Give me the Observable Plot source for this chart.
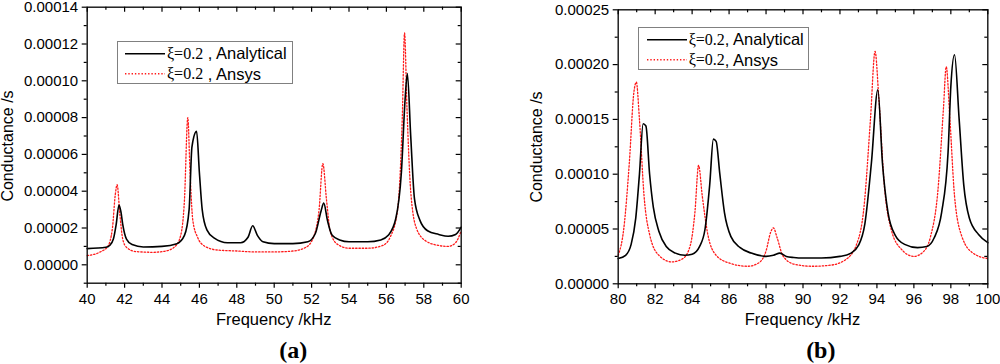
<!DOCTYPE html>
<html>
<head>
<meta charset="utf-8">
<script src="https://cdn.jsdelivr.net/npm/d3@7"></script>
<script src="https://cdn.jsdelivr.net/npm/@observablehq/plot@0.6"></script>
<style>
  html, body { margin: 0; padding: 0; background: #fff; }
  #root { position: relative; width: 1000px; height: 364px; overflow: hidden; background: #fff;
          font-family: "Liberation Sans", Arial, sans-serif; color: #000; }
  .panel { position: absolute; top: 0; }
  .lab { position: absolute; white-space: nowrap; font-size: 16.5px; transform: translate(-50%, -50%); line-height: 1; }
  .ylab { position: absolute; white-space: nowrap; font-size: 16px; transform: translate(-50%, -50%) rotate(-90deg); line-height: 1; }
  .tag { position: absolute; white-space: nowrap; font-family: "Liberation Serif", "Times New Roman", serif; font-weight: bold; font-size: 24px; transform: translate(-50%, -50%); line-height: 1; }
  .legend { position: absolute; border: 1px solid #808080; background: #fff; box-sizing: border-box; }
  .row { position: absolute; display: flex; align-items: center; font-size: 16.5px; white-space: nowrap; transform: translateY(-50%); line-height: 1; }
  .row svg { display: block; margin-right: 2px; }
  .xi { font-family: "Liberation Serif", "Times New Roman", serif; font-size: 16px; }
</style>
</head>
<body>
<div id="root"></div>
<script>
// ---- Data (conductance in units of 1e-5 S) ----
// Panel (a): 40–60 kHz
const aAnalyticalF = [40, 41, 41.2, 41.4, 41.55, 41.7, 41.8, 41.9, 42.1, 42.4, 43, 44, 44.8, 45.2, 45.45, 45.6, 45.85, 46, 46.15, 46.4, 46.8, 47.5, 48.2, 48.6, 48.85, 49.1, 49.4, 50, 51, 51.8, 52.2, 52.5, 52.65, 52.85, 53.1, 53.5, 54, 55, 55.7, 56.1, 56.5, 56.8, 57.0, 57.12, 57.3, 57.5, 57.8, 58.2, 58.8, 59.3, 59.7, 60];
const aAnalyticalG = [0.88, 0.95, 1.05, 1.4, 2.2, 3.25, 2.9, 2.2, 1.4, 1.1, 0.97, 1.0, 1.15, 1.6, 3.0, 6.4, 7.25, 5.0, 3.0, 1.9, 1.45, 1.2, 1.2, 1.5, 2.12, 1.6, 1.25, 1.15, 1.15, 1.25, 1.7, 2.9, 3.35, 2.4, 1.6, 1.35, 1.25, 1.25, 1.35, 1.6, 2.5, 5.0, 9.0, 10.4, 7.0, 3.6, 2.4, 1.85, 1.65, 1.55, 1.65, 2.05];
const aAnsysF = [40, 40.7, 41.1, 41.35, 41.5, 41.6, 41.75, 41.9, 42.1, 42.6, 43.5, 44.2, 44.7, 45.0, 45.2, 45.38, 45.5, 45.65, 45.9, 46.3, 47, 48, 49, 50, 51, 51.7, 52.1, 52.4, 52.6, 52.8, 53.0, 53.4, 54, 55, 55.8, 56.2, 56.6, 56.85, 56.97, 57.1, 57.3, 57.6, 58.1, 58.8, 59.3, 59.7, 60];
const aAnsysG = [0.5, 0.7, 1.0, 2.0, 3.8, 4.35, 2.7, 1.4, 0.95, 0.72, 0.68, 0.75, 1.0, 1.6, 3.5, 8.0, 5.0, 2.4, 1.5, 1.0, 0.8, 0.75, 0.7, 0.7, 0.75, 0.95, 1.5, 3.0, 5.5, 3.5, 1.8, 1.1, 0.9, 0.9, 1.05, 1.5, 3.0, 8.0, 12.6, 8.5, 4.0, 2.0, 1.3, 1.05, 1.0, 1.2, 1.85];
// Panel (b): 80–100 kHz
const bAnalyticalF = [80, 80.4, 80.7, 80.95, 81.15, 81.35, 81.5, 81.7, 81.9, 82.2, 82.6, 83.1, 83.6, 84.0, 84.4, 84.7, 84.95, 85.15, 85.3, 85.5, 85.75, 86.1, 86.6, 87.2, 88.0, 88.4, 88.75, 89.1, 89.5, 90, 91, 92, 92.6, 93.0, 93.35, 93.7, 94.05, 94.3, 94.6, 95.0, 95.5, 96.2, 96.7, 97.1, 97.5, 97.85, 98.0, 98.2, 98.45, 98.7, 99.0, 99.5, 100];
const bAnalyticalG = [2.3, 2.6, 3.6, 6.0, 10.0, 14.6, 14.4, 10.0, 7.0, 4.8, 3.4, 2.8, 2.6, 2.7, 3.4, 5.0, 9.0, 13.2, 13.0, 10.0, 6.5, 4.3, 3.3, 2.8, 2.5, 2.6, 2.8, 2.5, 2.4, 2.35, 2.35, 2.5, 2.8, 3.5, 5.5, 11.0, 17.7, 11.0, 6.5, 4.4, 3.6, 3.3, 3.4, 4.2, 6.5, 12.0, 18.0, 20.9, 15.0, 9.0, 6.0, 4.5, 3.75];
const bAnsysF = [80, 80.3, 80.6, 80.85, 80.98, 81.15, 81.4, 81.7, 82.2, 82.9, 83.5, 83.9, 84.15, 84.35, 84.55, 84.85, 85.3, 86, 87, 87.6, 88.0, 88.25, 88.4, 88.6, 88.9, 89.5, 90.5, 91.5, 92.3, 92.9, 93.3, 93.65, 93.9, 94.1, 94.4, 94.8, 95.3, 96.0, 96.5, 96.9, 97.3, 97.6, 97.75, 97.95, 98.2, 98.6, 99.2, 100];
const bAnsysG = [2.6, 5.0, 11.0, 17.5, 18.4, 15.0, 8.0, 4.5, 2.6, 2.0, 2.3, 3.5, 6.5, 10.8, 8.0, 4.5, 2.6, 1.9, 1.6, 1.9, 3.0, 4.7, 5.1, 4.2, 2.6, 1.8, 1.6, 1.7, 2.2, 3.6, 7.0, 15.0, 21.2, 17.0, 9.0, 4.8, 3.2, 2.5, 2.9, 4.3, 8.5, 16.0, 19.8, 15.0, 8.0, 4.3, 2.8, 2.3];

// Tick values
const aXMajor = [40, 42, 44, 46, 48, 50, 52, 54, 56, 58, 60];
const aXMinor = [41, 43, 45, 47, 49, 51, 53, 55, 57, 59];
const aYMajor = [0, 0.00002, 0.00004, 0.00006, 0.00008, 0.00010, 0.00012, 0.00014];
const aYMinor = [-0.00001, 0.00001, 0.00003, 0.00005, 0.00007, 0.00009, 0.00011, 0.00013];
const bXMajor = [80, 82, 84, 86, 88, 90, 92, 94, 96, 98, 100];
const bXMinor = [81, 83, 85, 87, 89, 91, 93, 95, 97, 99];
const bYMajor = [0, 0.00005, 0.00010, 0.00015, 0.00020, 0.00025];
const bYMinor = [0.000025, 0.000075, 0.000125, 0.000175, 0.000225];

const toRows = (F, G) => F.map((f, i) => ({f, g: G[i] * 1e-5}));

function panel(o) {
  const fw = o.width - o.ml - o.mr, fh = o.height - o.mt - o.mb;
  const chart = Plot.plot({
    width: o.width, height: o.height,
    marginLeft: o.ml, marginRight: o.mr, marginTop: o.mt, marginBottom: o.mb,
    style: {fontFamily: '"Liberation Sans", Arial, sans-serif', fontSize: "15px", color: "black", background: "transparent", overflow: "visible"},
    x: {domain: o.xDomain},
    y: {domain: o.yDomain},
    marks: [
      Plot.line(o.ansys, {x: "f", y: "g", stroke: "#ff1a1a", strokeWidth: 1.3, strokeDasharray: "1.4,1.9", curve: "monotone-x"}),
      Plot.line(o.analytical, {x: "f", y: "g", stroke: "black", strokeWidth: 1.6, curve: "monotone-x"}),
      Plot.frame({stroke: "#111", strokeWidth: 1.4}),
      Plot.axisX(o.xMajor, {tickSize: 5, tickPadding: 5, label: null, strokeWidth: 1.2, fontSize: 15}),
      Plot.axisX(o.xMinor, {tickSize: 3, tickFormat: () => "", label: null, strokeWidth: 1.2}),
      Plot.axisY(o.yMajor, {tickSize: 5, tickPadding: 4, tickFormat: d3.format(".5f"), label: null, strokeWidth: 1.2, fontSize: 15}),
      Plot.axisY(o.yMinor, {tickSize: 3, tickFormat: () => "", label: null, strokeWidth: 1.2}),
      Plot.tickX(o.xMajor, {x: d => d, insetBottom: fh - 5, strokeWidth: 1.2}),
      Plot.tickX(o.xMinor, {x: d => d, insetBottom: fh - 3, strokeWidth: 1.2}),
      Plot.tickY(o.yMajor, {y: d => d, insetLeft: fw - 5, strokeWidth: 1.2}),
      Plot.tickY(o.yMinor, {y: d => d, insetLeft: fw - 3, strokeWidth: 1.2})
    ]
  });
  return chart;
}

const root = document.getElementById("root");

function addPanel(left, o, labels) {
  const wrap = document.createElement("div");
  wrap.className = "panel";
  wrap.style.left = left + "px";
  wrap.style.width = o.width + "px";
  wrap.style.height = o.height + "px";
  wrap.appendChild(panel(o));
  root.appendChild(wrap);
}

addPanel(0, {
  width: 500, height: 364, ml: 86.7, mr: 39.3, mt: 6.7, mb: 81.3,
  xDomain: [40, 60], yDomain: [-0.00001, 0.00014],
  xMajor: aXMajor, xMinor: aXMinor, yMajor: aYMajor, yMinor: aYMinor,
  analytical: toRows(aAnalyticalF, aAnalyticalG), ansys: toRows(aAnsysF, aAnsysG)
});
addPanel(500, {
  width: 500, height: 364, ml: 117.7, mr: 12.7, mt: 9.3, mb: 80.7,
  xDomain: [80, 100], yDomain: [0, 0.00025],
  xMajor: bXMajor, xMinor: bXMinor, yMajor: bYMajor, yMinor: bYMinor,
  analytical: toRows(bAnalyticalF, bAnalyticalG), ansys: toRows(bAnsysF, bAnsysG)
});

function addDiv(cls, x, y, html) {
  const d = document.createElement("div");
  d.className = cls;
  d.style.left = x + "px";
  d.style.top = y + "px";
  d.innerHTML = html;
  root.appendChild(d);
  return d;
}

// Axis titles and panel tags
addDiv("lab", 273.7, 319, "Frequency /kHz");
addDiv("lab", 802.5, 319, "Frequency /kHz");
addDiv("ylab", 8, 146, "Conductance /s");
addDiv("ylab", 537, 147, "Conductance /s");
addDiv("tag", 293.3, 350, "(a)");
addDiv("tag", 820.8, 350, "(b)");

// Legends
function sample(dashed) {
  return `<svg width="40" height="6"><line x1="0" x2="40" y1="3" y2="3" stroke="${dashed ? "#ff1a1a" : "black"}" stroke-width="${dashed ? 1.3 : 1.6}" ${dashed ? 'stroke-dasharray="1.4,1.9"' : ""}/></svg>`;
}
function legend(box, rows) {
  const d = document.createElement("div");
  d.className = "legend";
  d.style.left = box.x + "px"; d.style.top = box.y + "px";
  d.style.width = box.w + "px"; d.style.height = box.h + "px";
  root.appendChild(d);
  rows.forEach(r => {
    const e = document.createElement("div");
    e.className = "row";
    e.style.left = (r.x - box.x - 1) + "px";
    e.style.top = (r.y - box.y - 1) + "px";
    e.innerHTML = sample(r.dashed) + `<span class="xi">ξ=0.2</span><span>${r.text}</span>`;
    d.appendChild(e);
  });
}
legend({x: 116.7, y: 40.7, w: 176, h: 43.5}, [
  {x: 125, y: 53.3, dashed: false, text: "&nbsp;, Analytical"},
  {x: 125, y: 74, dashed: true, text: "&nbsp;, Ansys"}
]);
legend({x: 638.3, y: 26.7, w: 171, h: 43.5}, [
  {x: 646.7, y: 39.3, dashed: false, text: ", Analytical"},
  {x: 646.7, y: 60, dashed: true, text: ", Ansys"}
]);
</script>
</body>
</html>
